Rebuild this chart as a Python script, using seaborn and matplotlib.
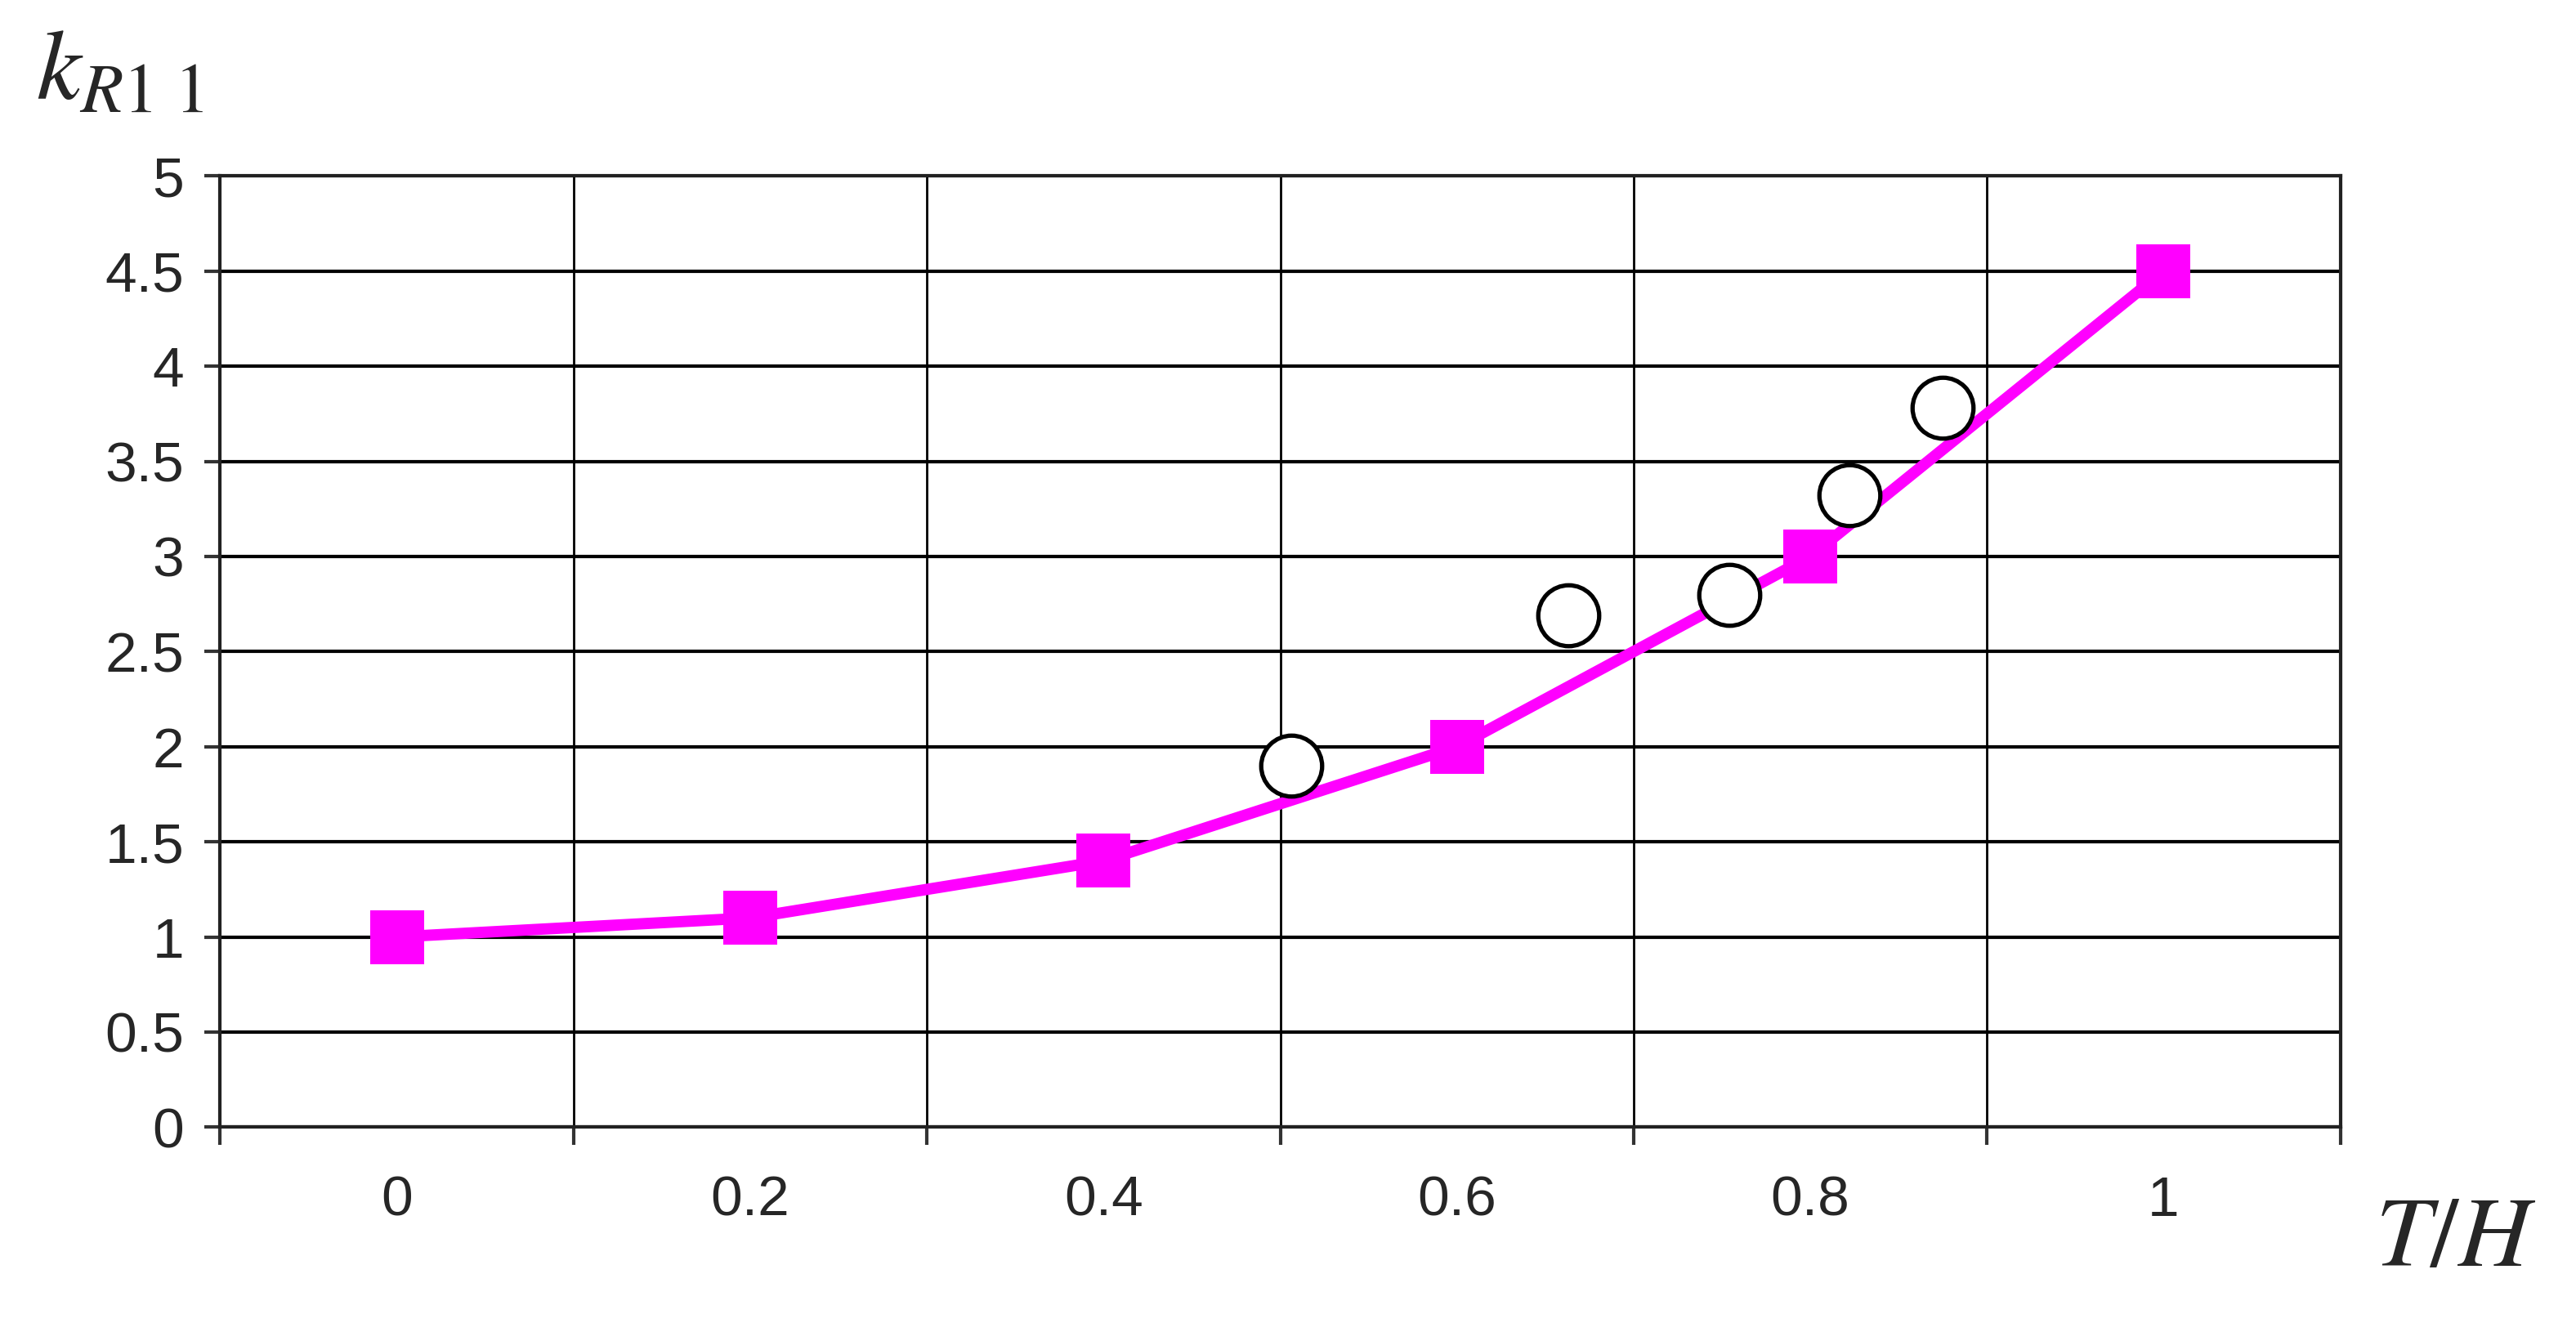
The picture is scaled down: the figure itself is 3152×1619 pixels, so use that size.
import numpy as np
import pandas as pd
import matplotlib
matplotlib.use("Agg")
import matplotlib.pyplot as plt
import seaborn as sns

# --------------------------------
# Data
# --------------------------------

th_line = [0.0, 0.2, 0.4, 0.6, 0.8, 1.0]
k_line = [1.0, 1.1, 1.4, 2.0, 3.0, 4.5]

th_exp = [0.506, 0.663, 0.754, 0.822, 0.875]
k_exp = [1.90, 2.69, 2.80, 3.32, 3.78]

x_labels = ["0", "0.2", "0.4", "0.6", "0.8", "1"]
y_ticks = [0, 0.5, 1, 1.5, 2, 2.5, 3, 3.5, 4, 4.5, 5]
y_labels = ["0", "0.5", "1", "1.5", "2", "2.5", "3", "3.5", "4", "4.5", "5"]
x_grid = [-0.1, 0.1, 0.3, 0.5, 0.7, 0.9, 1.1]

df_line = pd.DataFrame({"th": th_line, "k": k_line})
df_exp = pd.DataFrame({"th": th_exp, "k": k_exp})

# --------------------------------
# Style
# --------------------------------

sns.set_style("white")
plt.rcParams["font.family"] = ["Liberation Sans Narrow", "Liberation Sans", "DejaVu Sans"]
plt.rcParams["mathtext.fontset"] = "stix"

fig = plt.figure(figsize=(15.76, 8.095), dpi=200)
ax = fig.add_axes([0.0855, 0.148, 0.823, 0.719])

sns.lineplot(data=df_line, x="th", y="k", ax=ax, color="#FF00FF", linewidth=5,
             marker="s", markersize=24, markeredgewidth=0, zorder=3)
sns.scatterplot(data=df_exp, x="th", y="k", ax=ax, marker="o", s=720,
                facecolor="white", edgecolor="black", linewidth=1.9, zorder=4)

ax.set_xlim(-0.1, 1.1)
ax.set_ylim(0, 5)

ax.set_xticks(th_line)
ax.set_xticklabels(x_labels, fontsize=25)
ax.set_xticks(x_grid, minor=True)
ax.set_yticks(y_ticks)
ax.set_yticklabels(y_labels, fontsize=25)

ax.tick_params(bottom=True, left=True, which="both")
ax.tick_params(axis="x", which="major", length=0, pad=21)
ax.tick_params(axis="x", which="minor", length=8, width=1.5, color="#333333", direction="out")
ax.tick_params(axis="y", which="major", length=7, width=1.5, color="#333333", direction="out", pad=9)

ax.grid(False)
ax.yaxis.grid(True, which="major", color="black", linewidth=1.5)
ax.xaxis.grid(True, which="minor", color="black", linewidth=1.0)

for side in ["left", "right", "top", "bottom"]:
    ax.spines[side].set_visible(True)
    ax.spines[side].set_color("#222222")
    ax.spines[side].set_linewidth(1.5)

ax.set_xlabel("")
ax.set_ylabel("")

fig.text(0.014, 0.925, r"$k_{R\mathrm{1\ 1}}$", fontsize=44)
fig.text(0.922, 0.043, r"$T/H$", fontsize=44)

fig.savefig("out.png", dpi=200, facecolor="white")
